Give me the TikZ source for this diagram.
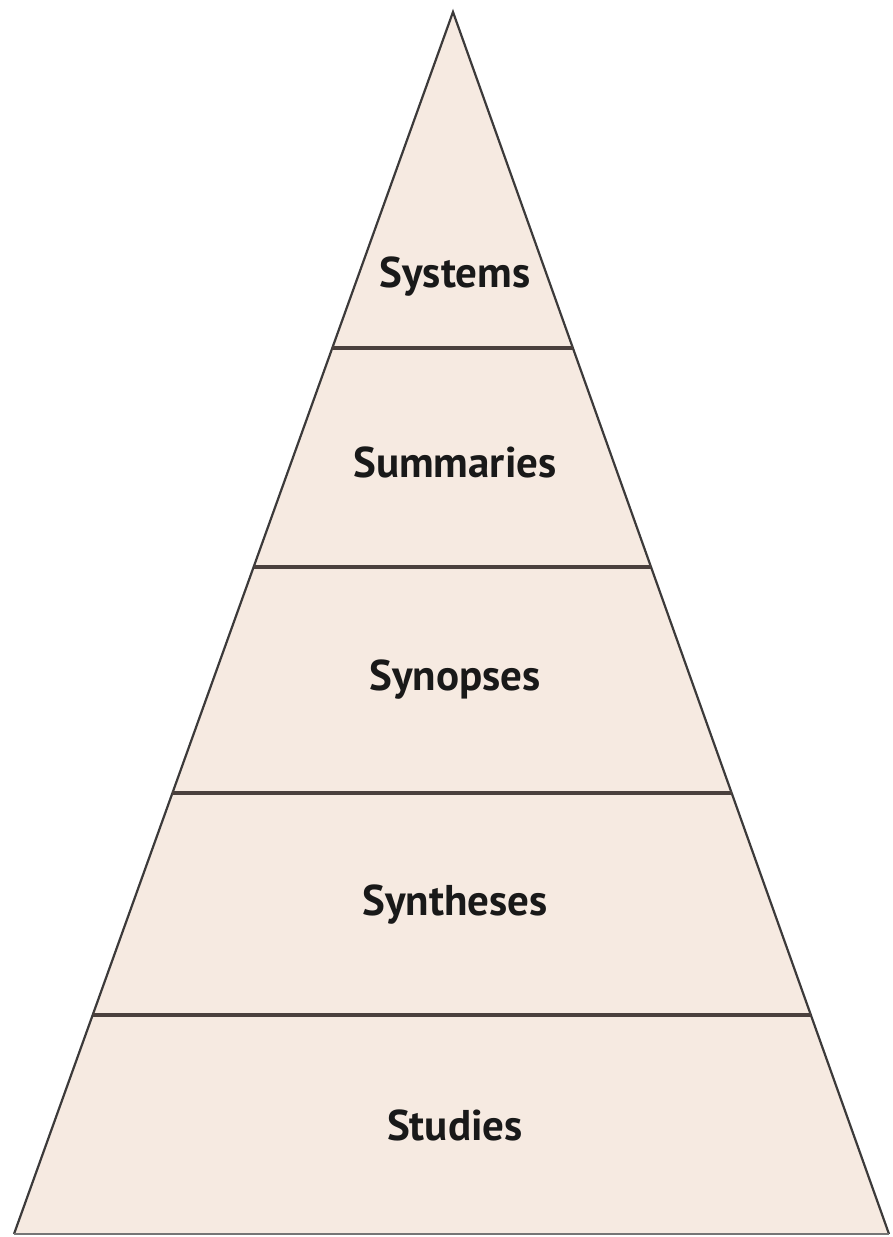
\documentclass[tikz,border=0pt]{standalone}
\usepackage{fontspec}
\setmainfont{PT Sans}
\usetikzlibrary{calc}
\definecolor{pyrfill}{HTML}{F6EAE1}
\definecolor{edgecol}{HTML}{3C3A3A}
\definecolor{divcol}{HTML}{4A403D}
\tikzset{
  side/.style={draw=edgecol,line width=2.2pt,line join=miter},
  divider/.style={draw=divcol,line width=3.6pt},
  lvl/.style={font=\fontsize{43}{50}\selectfont\bfseries,text=black!90,inner sep=0pt}
}
\begin{document}
\begin{tikzpicture}[x=1pt,y=-1pt]
\useasboundingbox (0,0) rectangle (892,1237);
\coordinate (A) at (453,12);
\coordinate (BL) at (14,1234);
\coordinate (BR) at (889,1234);
\fill[pyrfill] (A) -- (BL) -- (BR) -- cycle;
\draw[side] (BL) -- (A) -- (BR);
\draw[draw=edgecol!70,line width=2.4pt] (BL) -- (BR);
\foreach \t/\n in {0.2750/1,0.4542/2,0.6391/3,0.8208/4}{
  \coordinate (L\n) at ($(A)!\t!(BL)$);
  \coordinate (R\n) at ($(A)!\t!(BR)$);
  \draw[divider] (L\n) -- (R\n);
}
\node[lvl] (systems) at (455,277) {Systems};
\node[lvl] (summaries) at (455,462) {Summaries};
\node[lvl] (synopses) at (455,680) {Synopses};
\node[lvl] (syntheses) at (455,905) {Syntheses};
\node[lvl] (studies) at (455,1125) {Studies};
\end{tikzpicture}
\end{document}
